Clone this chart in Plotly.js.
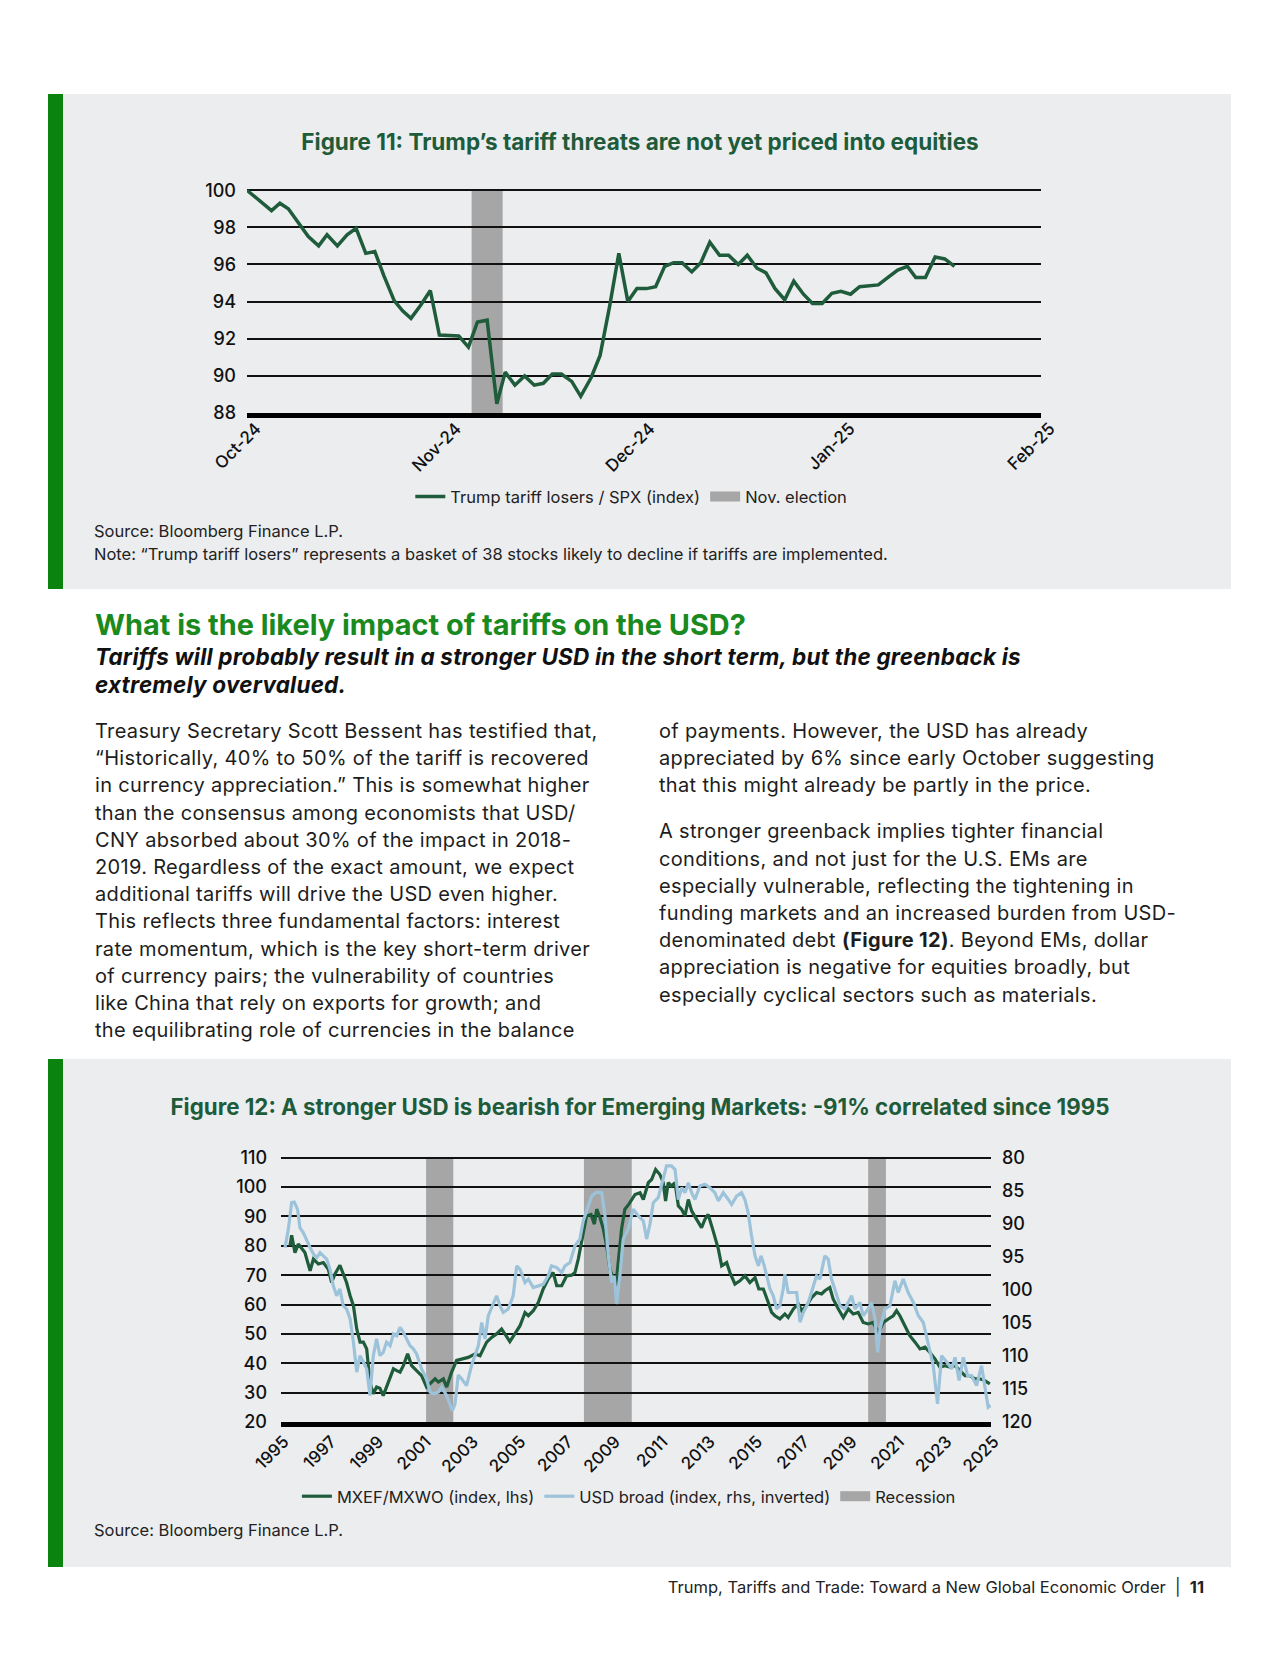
<!DOCTYPE html>
<html>
<head>
<meta charset="utf-8">
<script src="https://cdn.plot.ly/plotly-3.0.1.min.js"></script>
<style>
  html, body { margin: 0; padding: 0; background: #ffffff; }
  body { width: 1280px; height: 1656px; position: relative; overflow: hidden;
         font-family: Inter, "Open Sans", "DejaVu Sans", sans-serif; color: #1d1d1d; }
  .panel { position: absolute; left: 48px; width: 1183px; background: #ECEDEF; }
  .panel .bar { position: absolute; left: 0; top: 0; bottom: 0; width: 15px; background: #0B840F; }
  .chart { position: absolute; left: 63px; width: 1168px; }
  .txt { position: absolute; white-space: nowrap; }
  .src { left: 94px; font-size: 16.5px; line-height: 23px; color: #222; }
  h2.head { margin: 0; left: 95px; top: 609px; font-size: 28.9px; line-height: 32px; font-weight: 700; color: #1A8A1E; letter-spacing: 0px; }
  .sub { left: 95px; top: 643px; font-size: 22.5px; line-height: 28px; font-weight: 700; font-style: italic; color: #111; letter-spacing: 0.2px; }
  .body { font-size: 20px; line-height: 27.2px; color: #1d1d1d; letter-spacing: 0.33px; }
  .body p { margin: 0; }
  .footer { right: 76px; top: 1576px; font-size: 16.5px; line-height: 22px; color: #222; }
</style>
</head>
<body>

<div class="panel" style="top:94px;height:495px;"><div class="bar"></div></div>
<div class="panel" style="top:1059px;height:508px;"><div class="bar"></div></div>

<div id="fig11" class="chart" style="top:94px;height:420px;"></div>
<div class="txt src" style="top:520px;">Source: Bloomberg Finance L.P.<br>Note: “Trump tariff losers” represents a basket of 38 stocks likely to decline if tariffs are implemented.</div>

<h2 class="txt head">What is the likely impact of tariffs on the USD?</h2>
<div class="txt sub">Tariffs will probably result in a stronger USD in the short term, but the greenback is<br>extremely overvalued.</div>

<div class="txt body" style="left:95px;top:718px;">
Treasury Secretary Scott Bessent has testified that,<br>
“Historically, 40% to 50% of the tariff is recovered<br>
in currency appreciation.” This is somewhat higher<br>
than the consensus among economists that USD/<br>
CNY absorbed about 30% of the impact in 2018-<br>
2019. Regardless of the exact amount, we expect<br>
additional tariffs will drive the USD even higher.<br>
This reflects three fundamental factors: interest<br>
rate momentum, which is the key short-term driver<br>
of currency pairs; the vulnerability of countries<br>
like China that rely on exports for growth; and<br>
the equilibrating role of currencies in the balance
</div>
<div class="txt body" style="left:659px;top:718px;">
<p>of payments. However, the USD has already<br>
appreciated by 6% since early October suggesting<br>
that this might already be partly in the price.</p>
<p style="margin-top:18.8px;">A stronger greenback implies tighter financial<br>
conditions, and not just for the U.S. EMs are<br>
especially vulnerable, reflecting the tightening in<br>
funding markets and an increased burden from USD-<br>
denominated debt <b>(Figure 12)</b>. Beyond EMs, dollar<br>
appreciation is negative for equities broadly, but<br>
especially cyclical sectors such as materials.</p>
</div>

<div id="fig12" class="chart" style="top:1059px;height:470px;"></div>
<div class="txt src" style="top:1519px;">Source: Bloomberg Finance L.P.</div>

<div class="txt footer">Trump, Tariffs and Trade: Toward a New Global Economic Order&nbsp;&nbsp;|&nbsp;&nbsp;<b>11</b></div>

<script>
// ---------------- Figure 11 data ----------------
const fig11Start = '2024-10-01';
const fig11DayOffsets = [0, 3.8, 5.1, 6.4, 9.5, 11.1, 12.4, 14, 15.5, 16.9,
  18.4, 19.8, 21.2, 22.8, 24.1, 25.4, 26.9, 28.4, 29.8, 31.4,
  32.8, 34.3, 35.7, 37.2, 38.7, 40, 41.5, 43, 44.5, 45.9,
  47.3, 48.7, 50.3, 51.7, 53.3, 54.7, 56.2, 57.6, 59, 60.4,
  61.9, 63.3, 64.7, 66.1, 67.4, 68.9, 70.3, 71.7, 73.2, 74.6,
  76.1, 77.5, 79, 80.4, 81.8, 83.3, 84.7, 86.2, 87.6, 89.1,
  90.6, 92, 93.5, 94.9, 96.4, 97.8, 99.3, 100.8, 102.3, 103.6,
  105.1, 106.6, 108.1, 109.6];
const fig11Values = [100, 98.9, 99.3, 99.0, 97.5, 97.0, 97.6, 97.0, 97.6, 97.95,
  96.6, 96.7, 95.4, 94.05, 93.5, 93.1, 93.8, 94.6, 92.2, 92.15,
  92.15, 91.55, 92.9, 93.0, 88.5, 90.2, 89.5, 90.0, 89.5, 89.6,
  90.1, 90.1, 89.7, 88.9, 89.9, 91.1, 93.8, 96.6, 94.0, 94.7,
  94.7, 94.8, 95.9, 96.1, 96.1, 95.6, 96.1, 97.2, 96.5, 96.5,
  96.0, 96.5, 95.8, 95.55, 94.7, 94.1, 95.1, 94.4, 93.9, 93.9,
  94.45, 94.55, 94.4, 94.8, 94.85, 94.9, 95.3, 95.7, 95.9, 95.3,
  95.3, 96.4, 96.3, 95.9];
const electionDayOffsets = [34.8, 39.6];
const fig11TickDates = ['2024-10-01', '2024-11-01', '2024-12-01', '2025-01-01', '2025-02-01'];
const fig11TickLabels = ['Oct-24', 'Nov-24', 'Dec-24', 'Jan-25', 'Feb-25'];
const fig11SeriesName = 'Trump tariff losers / SPX (index)';
const fig11BandName = 'Nov. election';

// ---------------- Figure 12 data ----------------
const emYears = [1995.38,1995.45,1995.59,1995.73,1996.01,1996.23,1996.37,1996.58,1996.79,1997.0,
  1997.14,1997.28,1997.49,1997.63,1997.77,1997.92,1998.06,1998.2,1998.34,1998.48,
  1998.62,1998.76,1998.9,1999.04,1999.18,1999.32,1999.54,1999.75,1999.89,2000.03,
  2000.17,2000.35,2000.52,2000.73,2000.94,2001.15,2001.3,2001.51,2001.65,2001.86,
  2002.0,2002.21,2002.42,2002.63,2002.91,2003.2,2003.41,2003.55,2003.69,2003.9,
  2004.11,2004.32,2004.46,2004.67,2004.88,2005.1,2005.31,2005.45,2005.66,2005.87,
  2006.08,2006.29,2006.5,2006.65,2006.86,2007.07,2007.28,2007.42,2007.56,2007.7,
  2007.91,2008.1,2008.24,2008.34,2008.48,2008.62,2008.76,2008.9,2009.04,2009.15,
  2009.39,2009.53,2009.7,2009.96,2010.17,2010.31,2010.52,2010.66,2010.83,2011.01,
  2011.15,2011.25,2011.36,2011.5,2011.65,2011.79,2011.93,2012.07,2012.21,2012.35,
  2012.56,2012.77,2012.91,2013.05,2013.26,2013.48,2013.62,2013.83,2013.97,2014.18,
  2014.39,2014.6,2014.81,2015.03,2015.19,2015.38,2015.59,2015.73,2015.87,2016.08,
  2016.29,2016.43,2016.65,2016.86,2017.0,2017.21,2017.42,2017.63,2017.84,2017.98,
  2018.19,2018.33,2018.55,2018.76,2018.97,2019.18,2019.39,2019.6,2019.81,2020.02,
  2020.24,2020.45,2020.66,2020.87,2021.01,2021.15,2021.36,2021.57,2021.79,2022.0,
  2022.21,2022.42,2022.63,2022.84,2023.06,2023.27,2023.48,2023.69,2023.9,2024.11,
  2024.32,2024.53,2024.74,2024.95];
const emValues = [80,83.6,77.7,80.6,77.7,71.5,75.5,73.8,74.3,72,
  67.5,70.4,73.4,70.4,67.5,63,59.6,51.7,47.2,47.2,
  44.9,33.6,29.6,31.9,31.5,29,33.6,38.1,37.5,37,
  39.2,43.2,39.2,37.5,35.8,31.9,33,34.7,33.6,34.7,
  31.9,37,41,41.5,42,43.2,42.6,44.9,47.2,48.8,
  50,51.7,50,47.4,50,52.8,57.3,56.2,57.9,60.7,
  65.3,68.7,70.9,66.4,66.4,69.8,70,70.9,75.5,81.1,
  90.2,90.7,87.4,92.5,89.6,85.7,80,72,68.7,66.5,
  85.7,92.5,94.2,97.5,98.1,95.8,101.5,102.6,106,104.3,
  101.5,95.3,101.5,100.4,101.5,93.6,92.4,90.2,95.8,91.9,
  89,86.2,89,90.7,85.1,78.9,73.2,74.3,70.9,67,
  68.1,69.8,67.5,69.2,65.3,65.3,60.7,57.3,56.2,55.1,
  56.8,55.6,58.5,60.2,57.9,59.6,62.4,64.1,63.6,64.7,
  65.8,61.9,58.5,55.6,58.5,56.8,57.3,53.9,53.4,53.9,
  50.5,53.9,55.1,56.2,57.9,56.2,52.8,49.4,47.2,44.9,
  45.5,43.7,41.5,38.7,39.2,38.7,39.2,37.5,35.8,35.8,
  34.7,34.7,34.1,33];
const usdYears = [1995.17,1995.31,1995.45,1995.56,1995.7,1995.8,1995.94,1996.08,1996.23,1996.37,
  1996.51,1996.65,1996.79,1996.93,1997.07,1997.21,1997.35,1997.49,1997.63,1997.77,
  1997.92,1998.06,1998.2,1998.34,1998.48,1998.62,1998.76,1998.9,1999.04,1999.18,
  1999.32,1999.46,1999.61,1999.75,1999.89,2000.03,2000.17,2000.31,2000.45,2000.59,
  2000.73,2000.94,2001.15,2001.3,2001.44,2001.65,2001.79,2002.0,2002.14,2002.24,
  2002.35,2002.49,2002.63,2002.84,2003.05,2003.2,2003.34,2003.48,2003.62,2003.76,
  2003.97,2004.11,2004.25,2004.39,2004.6,2004.81,2004.96,2005.1,2005.31,2005.45,
  2005.66,2005.87,2006.08,2006.29,2006.43,2006.65,2006.86,2007.0,2007.21,2007.42,
  2007.63,2007.77,2007.91,2008.13,2008.34,2008.55,2008.69,2008.83,2008.97,2009.08,
  2009.18,2009.32,2009.46,2009.67,2009.88,2010.1,2010.31,2010.45,2010.59,2010.73,
  2010.94,2011.08,2011.29,2011.5,2011.65,2011.79,2011.93,2012.07,2012.21,2012.35,
  2012.49,2012.7,2012.91,2013.12,2013.33,2013.48,2013.69,2013.9,2014.04,2014.25,
  2014.46,2014.6,2014.74,2014.88,2015.03,2015.17,2015.28,2015.42,2015.52,2015.66,
  2015.8,2015.94,2016.08,2016.22,2016.29,2016.43,2016.57,2016.79,2016.93,2017.07,
  2017.28,2017.49,2017.63,2017.77,2017.98,2018.12,2018.26,2018.4,2018.62,2018.83,
  2018.97,2019.11,2019.25,2019.46,2019.6,2019.81,2019.95,2020.1,2020.21,2020.31,
  2020.52,2020.73,2020.94,2021.08,2021.29,2021.5,2021.72,2021.93,2022.14,2022.35,
  2022.56,2022.74,2022.91,2023.13,2023.34,2023.48,2023.65,2023.83,2024.01,2024.18,
  2024.39,2024.6,2024.74,2024.88,2024.99];
const usdValues = [93.6,90.84,86.8,86.71,87.82,90.58,91.33,92.58,93.6,94.58,
  95.11,94.36,94.84,95.33,96.89,99.38,100.89,99.87,102.4,102.89,
  104.4,107.91,112.44,109.96,110.93,111.96,116,109.96,107.42,109.96,
  109.47,107.91,108.44,106.67,106.93,105.69,106.44,107.42,108.44,108.93,
  109.69,111.96,113.47,115.47,115.73,115.47,114.71,116,117.51,118.27,
  117.33,112.89,113.47,114.49,111.47,109.96,108.44,104.93,107.42,103.91,
  101.91,100.89,102.4,103.42,102.89,100.89,96.36,96.89,98.89,98.36,
  99.64,99.38,99.16,97.87,96.36,96.62,97.38,96.36,95.87,93.33,
  92.31,89.56,88.04,85.78,85.2,85.29,88.8,94.84,98.89,97.87,
  102.13,97.87,92.31,90.8,87.78,88.8,89.56,92.31,90.04,86.8,
  86.04,84.27,81.24,81.24,81.78,86.31,84.53,85.29,83.78,85.29,
  86.31,84.27,84,84.53,85.29,86.53,85.29,86.31,87.07,85.82,
  85.29,86.31,88.31,91.82,94.84,96.36,94.84,96.36,97.87,99.87,
  100.89,102.89,102.4,99.87,97.64,100.4,100.4,100.4,104.89,103.42,
  101.91,99.38,97.87,98.36,94.84,95.33,98.36,99.87,102.4,102.89,
  101.91,100.89,102.89,101.91,103.91,102.89,101.91,104.4,109.47,105.91,
  102.89,102.4,98.62,100.4,98.36,100.4,101.91,103.91,104.93,108.44,
  111.47,117.24,109.96,110.93,111.96,110.22,113.73,110.22,112.98,112.98,
  114.49,111.47,115.02,117.78,117.51];
const recessionStarts = [2001.13, 2007.8, 2019.81];
const recessionEnds = [2002.28, 2009.82, 2020.56];
const fig12TickYears = [1995,1997,1999,2001,2003,2005,2007,2009,2011,2013,2015,2017,2019,2021,2023,2025];
const fig12TickLabels = ['1995','1997','1999','2001','2003','2005','2007','2009','2011','2013','2015','2017','2019','2021','2023','2025'];
const fig12Names = ['MXEF/MXWO (index, lhs)', 'USD broad (index, rhs, inverted)', 'Recession'];

// ---------------- helpers ----------------
const FONT = 'Inter, "Open Sans", "DejaVu Sans", sans-serif';
const DARK_GREEN = '#1F5C3B';
const LIGHT_BLUE = '#9CC3DA';
const BAND_GREY = '#A6A6A6';
const TITLE_GREEN = '#1E5B3A';

function offsetToDate(startStr, d) {
  const t = Date.parse(startStr + 'T00:00:00Z') + d * 86400000;
  const dt = new Date(t);
  const p = n => String(n).padStart(2, '0');
  return dt.getUTCFullYear() + '-' + p(dt.getUTCMonth() + 1) + '-' + p(dt.getUTCDate()) + ' ' +
         p(dt.getUTCHours()) + ':' + p(dt.getUTCMinutes());
}

const fig11Dates = fig11DayOffsets.map(d => offsetToDate(fig11Start, d));
const electionDates = electionDayOffsets.map(d => offsetToDate(fig11Start, d));

const tickFont = { family: FONT, size: 18, color: '#111', weight: 500 };
const xTickFont = { family: FONT, size: 17, color: '#111', weight: 500 };
const legendFont = { family: FONT, size: 16.5, color: '#222' };
const config = { staticPlot: true, displayModeBar: false };

// legend swatch for a shaded band: a thick grey line whose points sit below the visible range
function bandLegendTrace(name, xs, yaxis) {
  return { type: 'scatter', mode: 'lines', x: xs, y: [0, 0], name: name, yaxis: yaxis || 'y',
           line: { color: BAND_GREY, width: 14 }, hoverinfo: 'skip' };
}

// ---------------- Figure 11 ----------------
Plotly.newPlot('fig11', [
  { type: 'scatter', mode: 'lines', x: fig11Dates, y: fig11Values, name: fig11SeriesName,
    line: { color: DARK_GREEN, width: 3.5 }, cliponaxis: false, hoverinfo: 'skip' },
  bandLegendTrace(fig11BandName, electionDates)
], {
  width: 1168, height: 420,
  margin: { l: 184, r: 190, t: 94, b: 101, autoexpand: false },
  paper_bgcolor: 'rgba(0,0,0,0)', plot_bgcolor: 'rgba(0,0,0,0)',
  font: { family: FONT },
  title: { text: 'Figure 11: Trump’s tariff threats are not yet priced into equities',
           font: { family: FONT, size: 22.5, color: TITLE_GREEN, weight: 700 },
           x: 0.494, xref: 'container', xanchor: 'center',
           y: 1 - 48.5 / 420, yref: 'container', yanchor: 'middle' },
  showlegend: true,
  legend: { orientation: 'h', x: 0.484, xanchor: 'center', y: -0.372, yanchor: 'middle',
            font: legendFont, bgcolor: 'rgba(0,0,0,0)', itemwidth: 30, traceorder: 'normal' },
  xaxis: { type: 'date', range: [fig11TickDates[0], fig11TickDates[4]], tickmode: 'array',
           tickvals: fig11TickDates, ticktext: fig11TickLabels, tickangle: -45,
           ticklabelshift: 9, ticklabelstandoff: -6,
           showgrid: false, zeroline: false, showline: true, linecolor: '#000', linewidth: 5,
           ticks: '', tickfont: xTickFont, automargin: false },
  yaxis: { range: [88, 100.12], tickmode: 'linear', tick0: 88, dtick: 2, showgrid: true,
           gridcolor: '#111', gridwidth: 2, zeroline: false, showline: false, ticks: '',
           ticklabelstandoff: 10, tickfont: tickFont, automargin: false },
  shapes: [
    { type: 'rect', xref: 'x', yref: 'y', x0: electionDates[0], x1: electionDates[1], y0: 88, y1: 100,
      fillcolor: BAND_GREY, line: { width: 0 }, layer: 'below' }
  ],
  hovermode: false
}, config);

// ---------------- Figure 12 ----------------
const recessionShapes = recessionStarts.map((s, i) => ({
  type: 'rect', xref: 'x', yref: 'y', x0: s, x1: recessionEnds[i], y0: 20, y1: 110,
  fillcolor: BAND_GREY, line: { width: 0 }, layer: 'below'
}));
const fig12Top = 110.6;

Plotly.newPlot('fig12', [
  { type: 'scatter', mode: 'lines', x: emYears, y: emValues, name: fig12Names[0],
    line: { color: DARK_GREEN, width: 3.2 }, hoverinfo: 'skip' },
  { type: 'scatter', mode: 'lines', x: usdYears, y: usdValues, name: fig12Names[1], yaxis: 'y2',
    line: { color: LIGHT_BLUE, width: 3.2 }, hoverinfo: 'skip' },
  bandLegendTrace(fig12Names[2], [recessionStarts[0], recessionEnds[0]])
], {
  width: 1168, height: 470,
  margin: { l: 218, r: 240, t: 97, b: 107, autoexpand: false },
  paper_bgcolor: 'rgba(0,0,0,0)', plot_bgcolor: 'rgba(0,0,0,0)',
  font: { family: FONT },
  title: { text: 'Figure 12: A stronger USD is bearish for Emerging Markets: -91% correlated since 1995',
           font: { family: FONT, size: 22.3, color: TITLE_GREEN, weight: 700 },
           x: 0.494, xref: 'container', xanchor: 'center',
           y: 1 - 48 / 470, yref: 'container', yanchor: 'middle' },
  showlegend: true,
  legend: { orientation: 'h', x: 0.49, xanchor: 'center', y: -0.28, yanchor: 'middle',
            font: legendFont, bgcolor: 'rgba(0,0,0,0)', itemwidth: 30, traceorder: 'normal' },
  xaxis: { range: [1995, 2025], tickmode: 'array', tickvals: fig12TickYears, ticktext: fig12TickLabels,
           tickangle: -45, ticklabelshift: 3, ticklabelstandoff: -2,
           showgrid: false, zeroline: false, showline: true, linecolor: '#000', linewidth: 5,
           ticks: '', tickfont: xTickFont, automargin: false },
  yaxis: { range: [20, fig12Top], tickmode: 'linear', tick0: 20, dtick: 10, showgrid: true,
           gridcolor: '#111', gridwidth: 2, zeroline: false, showline: false, ticks: '',
           ticklabelstandoff: 13, tickfont: tickFont, automargin: false },
  yaxis2: { overlaying: 'y', side: 'right', range: [120, 80 - (fig12Top - 110) * 40 / 90], tickmode: 'linear', tick0: 80, dtick: 5,
            showgrid: false, zeroline: false, showline: false, ticks: '',
            ticklabelstandoff: 10, tickfont: tickFont, automargin: false },
  shapes: recessionShapes,
  hovermode: false
}, config);
</script>
</body>
</html>
